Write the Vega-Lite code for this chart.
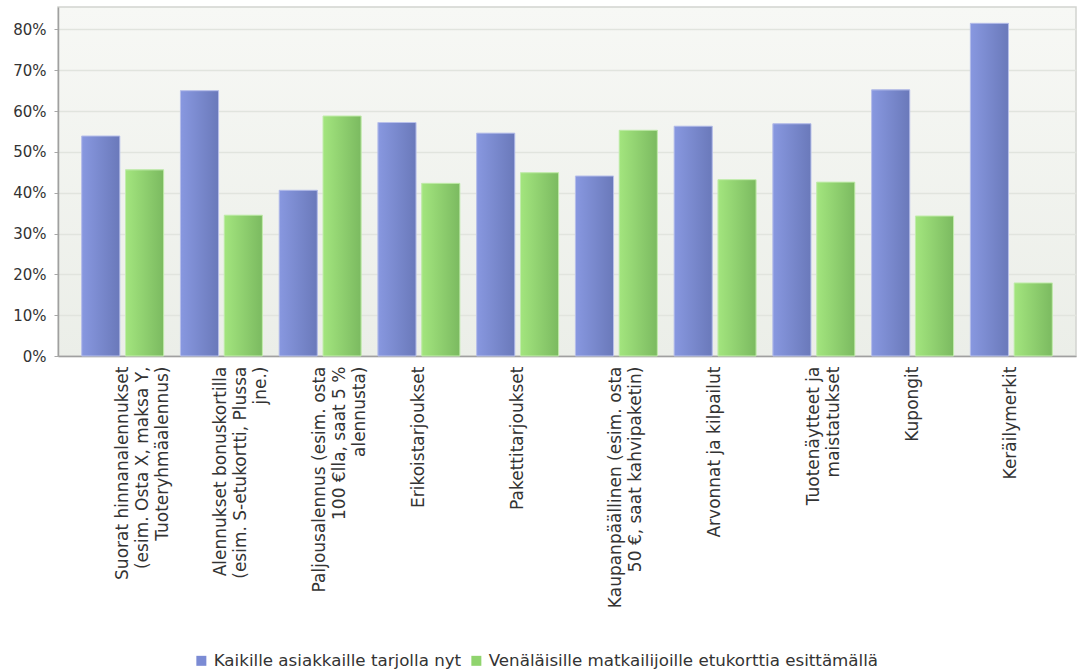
{
  "$schema": "https://vega.github.io/schema/vega-lite/v6.json",
  "width": 1018,
  "height": 349,
  "autosize": {"type": "none"},
  "padding": {"left": 58, "top": 7, "right": 2, "bottom": 314},
  "background": "#ffffff",
  "config": {
    "font": "DejaVu Sans",
    "view": {
      "stroke": "#d2d4d0",
      "strokeWidth": 1.5,
      "fill": {"gradient": "linear", "x1": 0, "y1": 0, "x2": 0, "y2": 1, "stops": [{"offset": 0, "color": "#f7f8f5"}, {"offset": 1, "color": "#ebeee8"}]}
    }
  },
  "data": {
    "values": [
      {"category": "Suorat hinnanalennukset\n(esim. Osta X, maksa Y,\nTuoteryhmäalennus)", "series": "Kaikille asiakkaille tarjolla nyt", "value": 53.9},
      {"category": "Suorat hinnanalennukset\n(esim. Osta X, maksa Y,\nTuoteryhmäalennus)", "series": "Venäläisille matkailijoille etukorttia esittämällä", "value": 45.6},
      {"category": "Alennukset bonuskortilla\n(esim. S-etukortti, Plussa\njne.)", "series": "Kaikille asiakkaille tarjolla nyt", "value": 65.0},
      {"category": "Alennukset bonuskortilla\n(esim. S-etukortti, Plussa\njne.)", "series": "Venäläisille matkailijoille etukorttia esittämällä", "value": 34.5},
      {"category": "Paljousalennus (esim. osta\n100 €lla, saat 5 %\nalennusta)", "series": "Kaikille asiakkaille tarjolla nyt", "value": 40.6},
      {"category": "Paljousalennus (esim. osta\n100 €lla, saat 5 %\nalennusta)", "series": "Venäläisille matkailijoille etukorttia esittämällä", "value": 58.8},
      {"category": "Erikoistarjoukset", "series": "Kaikille asiakkaille tarjolla nyt", "value": 57.2},
      {"category": "Erikoistarjoukset", "series": "Venäläisille matkailijoille etukorttia esittämällä", "value": 42.3},
      {"category": "Pakettitarjoukset", "series": "Kaikille asiakkaille tarjolla nyt", "value": 54.6},
      {"category": "Pakettitarjoukset", "series": "Venäläisille matkailijoille etukorttia esittämällä", "value": 44.9},
      {"category": "Kaupanpäällinen (esim. osta\n50 €, saat kahvipaketin)", "series": "Kaikille asiakkaille tarjolla nyt", "value": 44.1},
      {"category": "Kaupanpäällinen (esim. osta\n50 €, saat kahvipaketin)", "series": "Venäläisille matkailijoille etukorttia esittämällä", "value": 55.3},
      {"category": "Arvonnat ja kilpailut", "series": "Kaikille asiakkaille tarjolla nyt", "value": 56.3},
      {"category": "Arvonnat ja kilpailut", "series": "Venäläisille matkailijoille etukorttia esittämällä", "value": 43.2},
      {"category": "Tuotenäytteet ja\nmaistatukset", "series": "Kaikille asiakkaille tarjolla nyt", "value": 56.9},
      {"category": "Tuotenäytteet ja\nmaistatukset", "series": "Venäläisille matkailijoille etukorttia esittämällä", "value": 42.6},
      {"category": "Kupongit", "series": "Kaikille asiakkaille tarjolla nyt", "value": 65.2},
      {"category": "Kupongit", "series": "Venäläisille matkailijoille etukorttia esittämällä", "value": 34.3},
      {"category": "Keräilymerkit", "series": "Kaikille asiakkaille tarjolla nyt", "value": 81.5},
      {"category": "Keräilymerkit", "series": "Venäläisille matkailijoille etukorttia esittämällä", "value": 17.9}
    ]
  },
  "encoding": {
    "x": {
      "field": "category",
      "type": "nominal",
      "sort": null,
      "scale": {"paddingInner": 0.17, "paddingOuter": 0.24},
      "axis": {
        "title": null,
        "labelAngle": -90,
        "labelAlign": "right",
        "labelBaseline": "middle",
        "labelExpr": "split(datum.label, '\\n')",
        "labelFont": "DejaVu Sans",
        "labelFontSize": 17,
        "labelLineHeight": 20,
        "labelColor": "#333333",
        "labelLimit": 400,
        "labelPadding": 10,
        "ticks": false,
        "domainColor": "#a0a0a0",
        "domainWidth": 1.5,
        "grid": false
      }
    },
    "xOffset": {
      "field": "series",
      "type": "nominal",
      "scale": {"paddingInner": 0.13, "paddingOuter": 0}
    },
    "y": {
      "field": "value",
      "type": "quantitative",
      "scale": {"domain": [0, 85.5], "nice": false},
      "axis": {
        "title": null,
        "values": [0, 10, 20, 30, 40, 50, 60, 70, 80],
        "labelExpr": "datum.value + '%'",
        "labelFont": "DejaVu Sans",
        "labelFontSize": 15,
        "labelColor": "#333333",
        "labelPadding": 8,
        "tickSize": 4,
        "tickColor": "#a8a8a8",
        "domainColor": "#a0a0a0",
        "domainWidth": 1.5,
        "gridColor": "#e1e4de",
        "gridWidth": 1.5
      }
    }
  },
  "layer": [
    {
      "mark": {"type": "bar"},
      "encoding": {
        "color": {
          "field": "series",
          "type": "nominal",
          "scale": {"domain": ["Kaikille asiakkaille tarjolla nyt", "Venäläisille matkailijoille etukorttia esittämällä"], "range": ["#7b8bd4", "#90d46e"]},
          "legend": {
            "title": null,
            "orient": "none",
            "legendX": 135,
            "legendY": 645,
            "direction": "horizontal",
            "padding": 0,
            "symbolType": "square",
            "symbolSize": 100,
            "symbolStrokeWidth": 0,
            "labelFont": "DejaVu Sans",
            "labelFontSize": 16.7,
            "labelColor": "#333333",
            "labelLimit": 500,
            "labelOffset": 4,
            "columnPadding": 6
          }
        }
      }
    },
    {
      "mark": {"type": "bar", "strokeWidth": 1},
      "encoding": {
        "fill": {
          "condition": {
            "test": "datum.series === 'Kaikille asiakkaille tarjolla nyt'",
            "value": {"gradient": "linear", "x1": 0, "y1": 0, "x2": 1, "y2": 0, "stops": [{"offset": 0, "color": "#8898e0"}, {"offset": 1, "color": "#6a79ba"}]}
          },
          "value": {"gradient": "linear", "x1": 0, "y1": 0, "x2": 1, "y2": 0, "stops": [{"offset": 0, "color": "#a3e57e"}, {"offset": 1, "color": "#7bba60"}]}
        },
        "stroke": {
          "condition": {"test": "datum.series === 'Kaikille asiakkaille tarjolla nyt'", "value": "#b9c1ea"},
          "value": "#c3ecae"
        }
      }
    }
  ]
}
